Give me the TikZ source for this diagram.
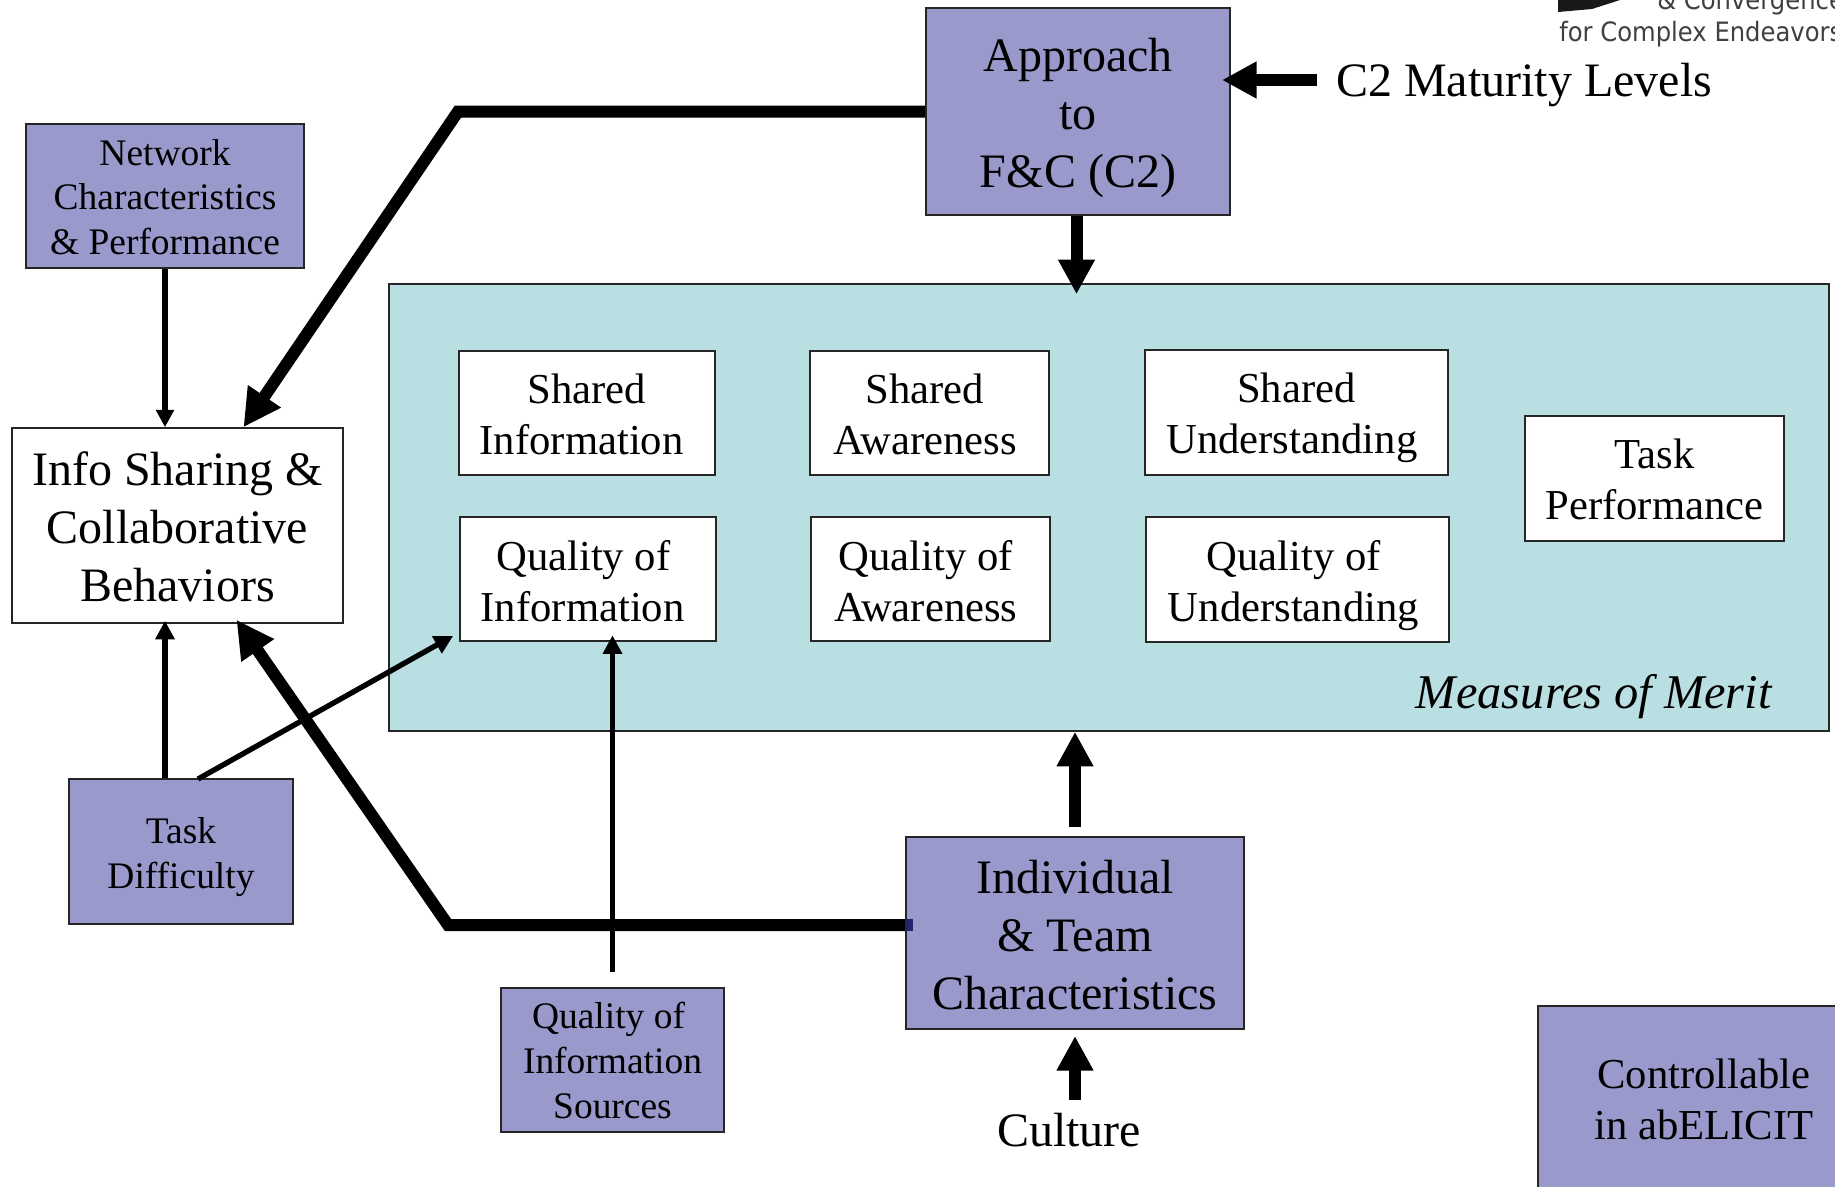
\documentclass[tikz,border=0pt]{standalone}
\usepackage{fontspec}
\setmainfont{Liberation Serif}
\newfontfamily\logofont[FakeStretch=0.91]{DejaVu Sans}
\usetikzlibrary{arrows.meta,calc}
\definecolor{boxpurple}{HTML}{9999CC}
\definecolor{meritteal}{HTML}{B9DFE2}
\definecolor{overlapnavy}{HTML}{24246B}
\newcommand{\trailgap}[1]{\rule{#1}{0pt}}
\newcommand{\setdepth}[2]{\raisebox{0pt}[\height][#1]{#2}}
\newcommand{\toppad}[1]{\rule{0pt}{\dimexpr 0.683em+#1\relax}}
\tikzset{
  x=0.75pt,y=-0.75pt,
  big/.style={font=\fontsize{36}{43.5}\selectfont},
  mid/.style={font=\fontsize{32}{38.2}\selectfont},
  small/.style={font=\fontsize{28.1}{33.6}\selectfont},
  pbox/.style={draw=black!85,line width=1.5pt,fill=boxpurple,align=center,inner sep=0pt},
  wbox/.style={draw=black!85,line width=1.2pt,fill=white,align=center,inner sep=0pt},
  plain/.style={align=center,inner sep=0pt},
  heavy/.style={line width=9pt,-{Triangle[width=28pt,length=28pt]}},
  thick arrow/.style={line width=9pt,-{Triangle[width=26pt,length=26pt]}},
  thin arrow/.style={line width=4pt,-{Triangle[width=13pt,length=13pt]}},
  mid arrow/.style={line width=4pt,-{Triangle[width=14pt,length=14pt]}},
}
\begin{document}
\begin{tikzpicture}
\useasboundingbox (0,0) rectangle (1835,1186);
\clip (0,0) rectangle (1835,1186);
\fill[white] (0,0) rectangle (1835,1186);

% logo fragment
\fill[black!90] (1558,0) -- (1620,0) -- (1592,9) -- (1558,12) -- cycle;
\node[plain,anchor=base west,text=black!75] (logoa) at (1657,9) {\logofont\fontsize{20}{24}\selectfont \& Convergence};
\node[plain,anchor=base west,text=black!75] (logob) at (1559,41) {\logofont\fontsize{20}{24}\selectfont for Complex Endeavors};

% boxes
\node[draw=black!85,line width=1.2pt,fill=meritteal,minimum width=1440*0.75pt,minimum height=447*0.75pt,inner sep=0pt] (merit) at (1109,507.5) {};
\node[pbox,big,minimum width=304*0.75pt,minimum height=207*0.75pt] (approach) at (1078,111.5) {\toppad{1.75pt}Approach\\to\\\setdepth{0pt}{F\&C (C2)}};
\node[pbox,small,minimum width=278*0.75pt,minimum height=144*0.75pt] (network) at (165,196) {\toppad{1.75pt}Network\\Characteristics\\\setdepth{0pt}{\& Performance}};
\node[wbox,big,minimum width=331*0.75pt,minimum height=195*0.75pt] (info) at (177.5,525.5) {\toppad{1.75pt}Info Sharing \&\\Collaborative\\\setdepth{0pt}{Behaviors}};
\node[wbox,mid,minimum width=256*0.75pt,minimum height=124*0.75pt] (sinfo) at (587,413) {\toppad{1.75pt}Shared\\\setdepth{0pt}{Information\trailgap{8pt}}};
\node[wbox,mid,minimum width=239*0.75pt,minimum height=124*0.75pt] (saware) at (929.5,413) {\toppad{1.75pt}Shared\trailgap{7pt}\\\setdepth{0pt}{Awareness\trailgap{6.2pt}}};
\node[wbox,mid,minimum width=303*0.75pt,minimum height=125*0.75pt] (sunder) at (1296.5,412.5) {\toppad{1.75pt}Shared\\\setdepth{0pt}{Understanding\trailgap{7pt}}};
\node[wbox,mid,minimum width=259*0.75pt,minimum height=125*0.75pt] (tperf) at (1654.5,478.5) {\toppad{1.75pt}Task\\\setdepth{0pt}{Performance}};
\node[wbox,mid,minimum width=256*0.75pt,minimum height=124*0.75pt] (qinfo) at (588,579) {\toppad{3.5pt}Quality of\trailgap{7pt}\\\setdepth{0pt}{Information\trailgap{8pt}}};
\node[wbox,mid,minimum width=239*0.75pt,minimum height=124*0.75pt] (qaware) at (930.5,579) {\toppad{3.5pt}Quality of\trailgap{7pt}\\\setdepth{0pt}{Awareness\trailgap{7pt}}};
\node[wbox,mid,minimum width=303*0.75pt,minimum height=125*0.75pt] (qunder) at (1297.5,579.5) {\toppad{3.5pt}Quality of\trailgap{6pt}\\\setdepth{0pt}{Understanding\trailgap{6pt}}};
\node[plain,anchor=base east,font=\fontsize{36.3}{42}\selectfont\itshape] (mom) at (1772,708) {Measures of Merit};
\node[pbox,small,minimum width=224*0.75pt,minimum height=145*0.75pt] (task) at (181,851.5) {\toppad{2.6pt}Task\\\setdepth{0pt}{Difficulty}};
\node[pbox,big,minimum width=338*0.75pt,minimum height=192*0.75pt] (indiv) at (1075,933) {\toppad{3.5pt}Individual\\\& Team\\\setdepth{0pt}{Characteristics}};
\node[pbox,small,minimum width=223*0.75pt,minimum height=144*0.75pt] (qsrc) at (612.5,1060) {\toppad{1pt}Quality of\trailgap{6pt}\\Information\\\setdepth{0pt}{Sources}};
\node[pbox,mid,minimum width=332*0.75pt,minimum height=190*0.75pt] (ctrl) at (1704,1101) {Controllable\\\setdepth{3.2pt}{in abELICIT}};
\node[plain,anchor=base west,big] (c2) at (1336,96.5) {C2 Maturity Levels};
\node[plain,big] (culture) at (1069,1130) {Culture};

% free ends
\coordinate (c2tip) at (1222,80);
\coordinate (c2tail) at (1317,80);

% connectors
\draw[heavy] (approach.west) -- (458,111.5) -- ($(info.north)+(66,0)$);
\draw[heavy] ($(indiv.west)+(0,-8)$) -- (448,925) -- ($(info.south)+(59,-4)$);
\fill[overlapnavy] (905,919) rectangle (913,931);
\draw[thin arrow] (network.south) -- (info.north -| network.south);
\draw[mid arrow] ($(task.north)+(-16,0)$) -- ($(info.south)+(-12.5,-3)$);
\draw[mid arrow] ($(task.north)+(17,1)$) -- ($(qinfo.south west)+(-6,-6)$);
\draw[mid arrow] ($(qsrc.north)+(0,-15)$) -- ($(qinfo.south)+(24.5,-6.5)$);
\draw[thick arrow] ($(approach.south)+(-1.5,0)$) -- ($(merit.north)+(-32.5,11)$);
\draw[thick arrow] ($(indiv.north)+(0,-9)$) -- ($(merit.south)+(-34,0)$);
\draw[thick arrow] ($(culture.north)+(6,-13)$) -- ($(indiv.south)+(0,6)$);
\draw[thick arrow] (c2tail) -- (c2tip);
\end{tikzpicture}
\end{document}
